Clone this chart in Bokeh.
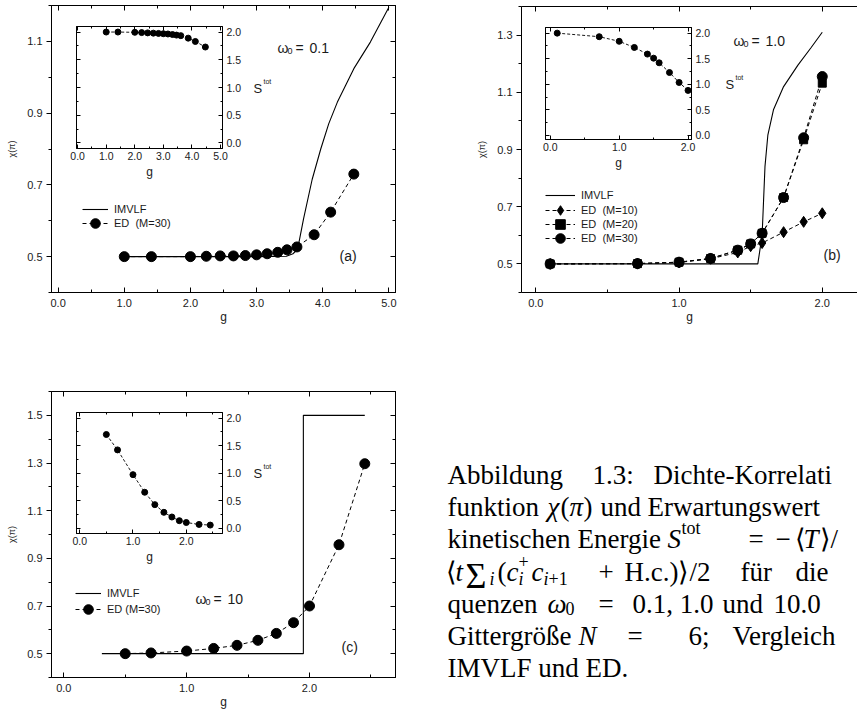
from bokeh.embed import file_html
from bokeh.models import (FixedTicker, Label, Legend, LegendItem, LinearAxis,
                          PrintfTickFormatter, Range1d)
from bokeh.plotting import figure
from bokeh.resources import INLINE

SANS = "Liberation Sans"
SERIF = "Liberation Serif"
INK = "black"
TXT = "#1a1a1a"

# ---------------- data ----------------
# (a) omega_0 = 0.1, ED with M = 30
g_a = [1.0, 1.41, 2.0, 2.24, 2.45, 2.65, 2.83, 3.0, 3.16, 3.32, 3.46, 3.61, 3.87, 4.12, 4.47]
chi_a_ed30 = [0.500, 0.500, 0.500, 0.501, 0.502, 0.502, 0.503, 0.505, 0.508, 0.512, 0.519,
              0.527, 0.561, 0.624, 0.730]
stot_a = [2.00, 2.00, 1.995, 1.99, 1.985, 1.98, 1.975, 1.97, 1.965, 1.955, 1.945, 1.935,
          1.89, 1.83, 1.73]
g_a_imvlf = [1.0, 3.0, 3.45, 3.55, 3.62, 3.71, 3.84, 3.97, 4.09, 4.22, 4.47, 4.72, 5.0]
chi_a_imvlf = [0.500, 0.500, 0.501, 0.508, 0.520, 0.605, 0.715, 0.800, 0.870, 0.930, 1.024,
               1.098, 1.195]

# (b) omega_0 = 1.0, ED with M = 10, 20, 30
g_b = [0.1, 0.71, 1.0, 1.22, 1.41, 1.5, 1.58, 1.73, 1.87, 2.0]
chi_b_ed10 = [0.500, 0.501, 0.505, 0.518, 0.540, 0.562, 0.573, 0.611, 0.647, 0.677]
chi_b_ed20 = [0.500, 0.501, 0.506, 0.519, 0.548, 0.570, 0.607, 0.732, 0.934, 1.132]
chi_b_ed30 = [0.500, 0.501, 0.506, 0.519, 0.548, 0.570, 0.607, 0.732, 0.941, 1.155]
stot_b = [2.00, 1.93, 1.84, 1.72, 1.59, 1.51, 1.42, 1.23, 1.035, 0.88]
g_b_imvlf = [0.1, 1.55, 1.58, 1.59, 1.60, 1.62, 1.66, 1.73, 1.83, 1.92, 2.0]
chi_b_imvlf = [0.500, 0.500, 0.600, 0.720, 0.840, 0.950, 1.040, 1.120, 1.195, 1.255, 1.310]

# (c) omega_0 = 10, ED with M = 30
g_c = [0.5, 0.71, 1.0, 1.22, 1.41, 1.58, 1.73, 1.87, 2.0, 2.24, 2.45]
chi_c_ed30 = [0.500, 0.503, 0.511, 0.522, 0.535, 0.556, 0.585, 0.630, 0.700, 0.957, 1.297]
stot_c = [1.70, 1.42, 0.97, 0.65, 0.425, 0.285, 0.20, 0.133, 0.10, 0.065, 0.053]
g_c_imvlf = [0.31, 1.95, 1.95, 2.45]
chi_c_imvlf = [0.5, 0.5, 1.5, 1.5]

# tick positions
ticks_a_x = [0.0, 1.0, 2.0, 3.0, 4.0, 5.0]
minor_a_x = [0.5, 1.5, 2.5, 3.5, 4.5]
ticks_a_y = [0.5, 0.7, 0.9, 1.1]
minor_a_y = [0.4, 0.6, 0.8, 1.0, 1.2]
ticks_b_x = [0.0, 1.0, 2.0]
minor_b_x = [0.5, 1.5]
ticks_b_y = [0.5, 0.7, 0.9, 1.1, 1.3]
minor_b_y = [0.4, 0.6, 0.8, 1.0, 1.2, 1.4]
ticks_c_x = [0.0, 1.0, 2.0]
minor_c_x = [0.5, 1.5, 2.5]
ticks_c_y = [0.5, 0.7, 0.9, 1.1, 1.3, 1.5]
minor_c_y = [0.4, 0.6, 0.8, 1.0, 1.2, 1.4, 1.6]
ticks_s = [0.0, 0.5, 1.0, 1.5, 2.0]
minor_s = [0.25, 0.75, 1.25, 1.75]

# page position of each frame's bottom-left corner, used by the screen-unit labels
FRAME_ORIGIN = {}


# ---------------- helpers ----------------
def make_axis(ticks, minor, major_in, major_out, minor_in, minor_out,
              labels=True, size="11px", standoff=4):
    return LinearAxis(
        ticker=FixedTicker(ticks=ticks, minor_ticks=minor),
        formatter=PrintfTickFormatter(format="%.1f"),
        major_tick_in=major_in, major_tick_out=major_out,
        minor_tick_in=minor_in, minor_tick_out=minor_out,
        axis_line_color=INK, major_tick_line_color=INK, minor_tick_line_color=INK,
        major_label_text_font=SANS,
        major_label_text_color=TXT if labels else None,
        major_label_text_font_size=size if labels else "0px",
        major_label_standoff=standoff if labels else 0,
        axis_label_text_font=SANS, axis_label_text_font_style="normal",
        axis_label_text_color=TXT,
    )


def make_fig(box, borders, xr, yr, closed=True):
    left, top, w, h = box
    p = figure(width=w, height=h, x_range=Range1d(*xr), y_range=Range1d(*yr),
               x_axis_type=None, y_axis_type=None, output_backend="svg",
               toolbar_location=None,
               min_border_left=borders[0], min_border_right=borders[1],
               min_border_top=borders[2], min_border_bottom=borders[3])
    p.border_fill_color = None
    p.background_fill_color = "white"
    p.outline_line_color = INK if closed else None
    p.outline_line_width = 1
    p.styles = {"position": "absolute", "left": f"{left}px", "top": f"{top}px"}
    FRAME_ORIGIN[p.id] = (left + borders[0], top + h - borders[3])
    return p


def place(p, x, y, text, size, style="normal", font=SANS, color=TXT):
    fx, fy = FRAME_ORIGIN[p.id]
    p.add_layout(Label(x=x - fx, y=fy - y, x_units="screen", y_units="screen",
                       text=text, text_font=font, text_font_size=f"{size}px",
                       text_font_style=style, text_color=color,
                       text_baseline="alphabetic", text_align="left"))


def main_panel(box, borders, xr, yr, xt, xm, yt, ym, closed=True):
    p = make_fig(box, borders, xr, yr, closed)
    left_ax = make_axis(yt, ym, 0, 5, 0, 3, standoff=4)
    left_ax.axis_label = "χ(π)"
    left_ax.axis_label_text_font_size = "9px"
    left_ax.axis_label_standoff = 7
    p.add_layout(left_ax, "left")
    bottom_ax = make_axis(xt, xm, 5, 0, 3, 0, standoff=6)
    bottom_ax.axis_label = "g"
    bottom_ax.axis_label_text_font_size = "12px"
    bottom_ax.axis_label_standoff = 0
    p.add_layout(bottom_ax, "below")
    p.add_layout(make_axis(xt, xm, 5, 0, 3, 0, labels=False), "above")
    if closed:
        p.add_layout(make_axis(yt, ym, 5, 0, 3, 0, labels=False), "right")
    return p


def inset_panel(box, borders, xr, yr, xt, xm):
    p = make_fig(box, borders, xr, yr)
    p.add_layout(make_axis(ticks_s, minor_s, 4, 0, 2, 0, labels=False), "left")
    p.add_layout(make_axis(ticks_s, minor_s, 4, 0, 2, 0, size="10.5px", standoff=4), "right")
    bottom_ax = make_axis(xt, xm, 4, 0, 2, 0, size="10.5px", standoff=3)
    bottom_ax.axis_label = "g"
    bottom_ax.axis_label_text_font_size = "12px"
    bottom_ax.axis_label_standoff = 2
    p.add_layout(bottom_ax, "below")
    p.add_layout(make_axis(xt, xm, 4, 0, 2, 0, labels=False), "above")
    return p


def legend_rows(p, rows, x, row_centres, glyph_w):
    """One single-entry legend per row: a tall glyph box gives full-size markers
    while the rows themselves sit at the chosen centres (page y)."""
    fx, fy = FRAME_ORIGIN[p.id]
    box_h = 24
    for (label, renderers), yc in zip(rows, row_centres):
        p.add_layout(Legend(items=[LegendItem(label=label, renderers=renderers)],
                            location=(x - fx, fy - yc - box_h / 2), orientation="vertical",
                            glyph_width=glyph_w, glyph_height=box_h, label_height=box_h,
                            spacing=0, padding=0, margin=0, label_standoff=6,
                            label_text_font=SANS, label_text_font_size="11px",
                            label_text_color=TXT, background_fill_alpha=0,
                            border_line_alpha=0))


def omega_label(p, x, y, val):
    place(p, x, y, "ω", 14)
    place(p, x + 10, y + 3, "0", 9)
    place(p, x + 18, y, "=", 14)
    place(p, x + 32, y, val, 14)


def stot_label(p, x, y):
    place(p, x, y, "S", 13)
    place(p, x + 10, y - 7, "tot", 7)


# ---------------- panel (a) ----------------
pa = main_panel((0, -20, 420, 357), (51, 25, 25, 45), (-0.1, 5.1), (0.4, 1.2),
                ticks_a_x, minor_a_x, ticks_a_y, minor_a_y)
a_imvlf = pa.line(g_a_imvlf, chi_a_imvlf, line_color=INK, line_width=1.1)
a_line = pa.line(g_a, chi_a_ed30, line_color=INK, line_width=1, line_dash="4 3")
a_pts = pa.scatter(g_a, chi_a_ed30, marker="circle", size=10, fill_color=INK, line_color=INK)
legend_rows(pa, [("IMVLF", [a_imvlf]), ("ED  (M=30)", [a_line, a_pts])], 82, [209, 223], 26)
omega_label(pa, 277, 47, "0.1")
place(pa, 339, 255, "(a)", 14)
stot_label(pa, 253, 88)

# ---------------- panel (b) ----------------
pb = main_panel((470, -19, 387, 356), (51, 0, 25, 45), (-0.1, 2.246), (0.4, 1.4),
                ticks_b_x, minor_b_x, ticks_b_y, minor_b_y, closed=False)
b_imvlf = pb.line(g_b_imvlf, chi_b_imvlf, line_color=INK, line_width=1.1)
b_l10 = pb.line(g_b, chi_b_ed10, line_color=INK, line_width=1, line_dash="4 3")
b_p10 = pb.scatter(g_b, chi_b_ed10, marker="diamond", size=11, fill_color=INK, line_color=INK)
b_l20 = pb.line(g_b, chi_b_ed20, line_color=INK, line_width=1, line_dash="4 3")
b_p20 = pb.scatter(g_b, chi_b_ed20, marker="square", size=8, fill_color=INK, line_color=INK)
b_l30 = pb.line(g_b, chi_b_ed30, line_color=INK, line_width=1, line_dash="4 3")
b_p30 = pb.scatter(g_b, chi_b_ed30, marker="circle", size=10, fill_color=INK, line_color=INK)
legend_rows(pb, [("IMVLF", [b_imvlf]),
                 ("ED  (M=10)", [b_l10, b_p10]),
                 ("ED  (M=20)", [b_l20, b_p20]),
                 ("ED  (M=30)", [b_l30, b_p30])], 545, [195, 210, 224, 238], 30)
omega_label(pb, 733, 40, "1.0")
place(pb, 823, 254, "(b)", 14)
stot_label(pb, 725, 84)

# ---------------- panel (c) ----------------
pc = main_panel((0, 366, 420, 345), (51, 25, 25, 34), (-0.1, 2.7), (0.4, 1.6),
                ticks_c_x, minor_c_x, ticks_c_y, minor_c_y)
c_imvlf = pc.line(g_c_imvlf, chi_c_imvlf, line_color=INK, line_width=1.1)
c_line = pc.line(g_c, chi_c_ed30, line_color=INK, line_width=1, line_dash="4 3")
c_pts = pc.scatter(g_c, chi_c_ed30, marker="circle", size=10, fill_color=INK, line_color=INK)
legend_rows(pc, [("IMVLF", [c_imvlf]), ("ED (M=30)", [c_line, c_pts])], 75, [593, 609], 26)
omega_label(pc, 195, 598, "10")
place(pc, 341, 646, "(c)", 14)
stot_label(pc, 253, 473)

# ---------------- insets: S_tot ----------------
ia = inset_panel((66, 16, 216, 165), (10, 60, 10, 32), (-0.04, 5.07), (-0.1, 2.1),
                 ticks_a_x, minor_a_x)
ia.line(g_a, stot_a, line_color=INK, line_width=0.9, line_dash="3 2")
ia.scatter(g_a, stot_a, marker="circle", size=6, fill_color=INK, line_color=INK)

ib = inset_panel((535, 17, 216, 155), (10, 60, 10, 32), (-0.07, 2.05), (-0.08, 2.11),
                 ticks_b_x, minor_b_x)
ib.line(g_b, stot_b, line_color=INK, line_width=0.9, line_dash="3 2")
ib.scatter(g_b, stot_b, marker="circle", size=6, fill_color=INK, line_color=INK)

ic = inset_panel((66, 402, 216, 164), (10, 60, 10, 32), (-0.06, 2.68), (-0.1, 2.1),
                 ticks_c_x, minor_c_x)
ic.line(g_c, stot_c, line_color=INK, line_width=0.9, line_dash="3 2")
ic.scatter(g_c, stot_c, marker="circle", size=6, fill_color=INK, line_color=INK)

# ---------------- caption ----------------
cap = make_fig((440, 440, 417, 265), (0, 0, 0, 0), (0, 1), (0, 1), closed=False)
cap.background_fill_color = None

LINE_Y = [474, 506, 538, 571, 603, 635, 667]
F, S = 27, 18
caption = [
    (447, 0, 0, "Abbildung", "normal", F),
    (592, 0, 0, "1.3:", "normal", F),
    (653, 0, 0, "Dichte-Korrelati", "normal", F),
    (447, 1, 0, "funktion", "normal", F),
    (547, 1, 0, "χ", "italic", F),
    (560, 1, 0, "(", "normal", F),
    (569, 1, 0, "π", "italic", F),
    (583, 1, 0, ")", "normal", F),
    (600, 1, 0, "und", "normal", F),
    (647, 1, 0, "Erwartungswert", "normal", F),
    (447, 2, 0, "kinetischen", "normal", F),
    (577, 2, 0, "Energie", "normal", F),
    (667, 2, 0, "S", "italic", F),
    (681, 2, -11, "tot", "normal", S),
    (748, 2, 0, "=", "normal", F),
    (775, 2, 0, "−", "normal", F),
    (794, 2, 0, "⟨", "normal", F),
    (803, 2, 0, "T", "italic", F),
    (819, 2, 0, "⟩/", "normal", F),
    (445, 3, 0, "⟨", "normal", F),
    (455, 3, 0, "t", "italic", F),
    (465, 3, 4, "Σ", "normal", 36),
    (489, 3, 7, "i", "italic", S),
    (497, 3, 0, "(", "normal", F),
    (506, 3, 0, "c", "italic", F),
    (518, 3, -10, "+", "normal", S),
    (518, 3, 7, "i", "italic", S),
    (531, 3, 0, "c", "italic", F),
    (543, 3, 7, "i", "italic", S),
    (548, 3, 7, "+1", "normal", S),
    (598, 3, 0, "+", "normal", F),
    (624, 3, 0, "H.c.)⟩/2", "normal", F),
    (740, 3, 0, "für", "normal", F),
    (795, 3, 0, "die", "normal", F),
    (447, 4, 0, "quenzen", "normal", F),
    (547, 4, 0, "ω", "italic", F),
    (565, 4, 5, "0", "normal", S),
    (598, 4, 0, "=", "normal", F),
    (632, 4, 0, "0.1, 1.0", "normal", F),
    (722, 4, 0, "und", "normal", F),
    (773, 4, 0, "10.0", "normal", F),
    (447, 5, 0, "Gittergröße", "normal", F),
    (578, 5, 0, "N", "italic", F),
    (627, 5, 0, "=", "normal", F),
    (688, 5, 0, "6;", "normal", F),
    (732, 5, 0, "Vergleich", "normal", F),
    (447, 6, 0, "IMVLF und ED.", "normal", F),
]
for x, line, dy, text, style, size in caption:
    place(cap, x, LINE_Y[line] + dy, text, size, style=style, font=SERIF, color="black")

# each panel is its own root so that their frames are not aligned with one another
roots = [pa, pb, pc, ia, ib, ic, cap]
open("out.html", "w").write(file_html(roots, INLINE))
